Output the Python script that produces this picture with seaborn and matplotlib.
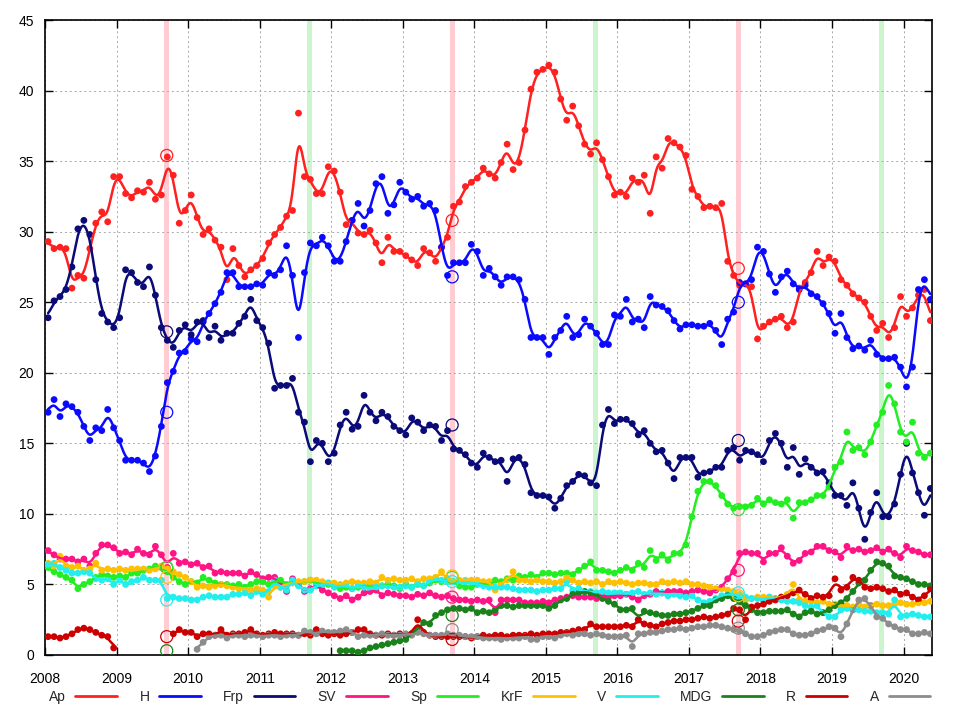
# -*- coding: utf-8 -*-

import numpy as np
import pandas as pd
import matplotlib
matplotlib.use("Agg")
import matplotlib.pyplot as plt
import seaborn as sns
from matplotlib.lines import Line2D

nan = np.nan

# Monthly poll values, Jan 2008 - May 2020 (one row per year)
ap = [
    29.3, 28.8, 28.9, 28.8, 26.0, 26.9, 26.7, 28.8, 30.6, 31.4, 30.7, 33.9,
    33.9, 32.7, 32.4, 32.9, 32.8, 33.5, 32.3, 32.6, 35.3, 34.0, 30.6, 31.5,
    32.6, 31.0, 29.8, 30.2, 29.4, 28.9, 26.6, 28.8, 27.6, 26.8, 27.3, 27.6,
    28.1, 29.2, 29.8, 30.3, 31.1, 31.5, 38.4, 33.9, 33.7, 32.7, 32.7, 34.6,
    34.3, 32.8, 30.5, 30.8, 29.9, 29.8, 30.1, 29.2, 27.8, 29.6, 28.6, 28.6,
    28.3, 28.0, 27.6, 28.8, 28.5, 27.9, 28.9, 29.6, 31.8, 32.1, 33.2, 33.5,
    33.8, 34.5, 34.1, 33.8, 34.9, 36.2, 34.4, 34.9, 37.2, 40.1, 41.3, 41.5,
    41.8, 41.3, 39.4, 37.9, 38.9, 37.5, 36.2, 35.5, 36.3, 35.1, 33.9, 32.6,
    32.8, 32.5, 33.8, 33.5, 34.0, 31.3, 35.3, 34.5, 36.6, 36.3, 36.0, 35.4,
    33.0, 32.5, 31.7, 31.8, 31.7, 32.0, 27.9, 26.9, 26.2, 26.3, 26.1, 22.4,
    23.3, 23.6, 23.8, 24.0, 23.2, 23.6, 26.0, 26.4, 27.1, 28.6, 27.6, 28.2,
    27.9, 26.6, 26.2, 25.6, 25.3, 25.0, 24.0, 23.0, 23.5, 22.5, 23.2, 25.4,
    24.0, 24.6, 25.5, 25.9, 23.7,
]
h = [
    17.2, 18.1, 16.9, 17.8, 17.6, 17.2, 16.2, 15.2, 16.1, 15.9, 17.4, 16.1,
    15.2, 13.8, 13.8, 13.8, 13.6, 13.0, 14.1, 16.2, 19.3, 20.1, 21.4, 21.5,
    22.4, 22.2, 23.6, 24.2, 24.9, 25.7, 27.1, 27.1, 26.1, 26.1, 26.1, 26.3,
    26.2, 27.1, 26.9, 27.3, 29.0, 26.9, 22.5, 27.1, 29.2, 29.0, 29.6, 29.0,
    27.9, 27.9, 29.3, 30.8, 32.0, 30.4, 31.5, 33.4, 33.9, 31.3, 31.9, 33.5,
    32.8, 32.3, 32.5, 31.8, 32.0, 31.5, 28.9, 26.9, 27.8, 27.8, 27.8, 29.1,
    28.6, 26.9, 27.4, 26.8, 26.2, 26.8, 26.8, 26.6, 25.2, 22.5, 22.5, 22.5,
    21.3, 22.5, 23.0, 24.0, 22.5, 22.7, 23.8, 23.3, 22.8, 22.0, 22.0, 24.1,
    24.0, 25.2, 23.6, 23.8, 23.2, 25.4, 24.8, 24.7, 24.4, 23.7, 23.1, 23.4,
    23.4, 23.3, 23.3, 23.5, 23.0, 22.0, 23.8, 24.3, 26.4, 26.3, 26.6, 28.9,
    28.6, 27.0, 25.7, 26.8, 27.2, 26.3, 25.9, 26.2, 25.6, 25.4, 24.9, 24.2,
    22.8, 24.2, 22.5, 21.7, 21.9, 21.6, 22.3, 21.3, 21.0, 21.0, 21.1, 20.4,
    19.0, 20.4, 25.9, 26.6, 25.2,
]
frp = [
    23.9, 25.1, 25.4, 25.9, 27.5, 30.2, 30.8, 29.8, 26.6, 24.2, 23.6, 23.2,
    23.9, 27.3, 27.1, 26.4, 26.1, 27.5, 25.5, 23.2, 22.3, 21.8, 23.0, 23.4,
    22.7, 23.6, 23.7, 22.5, 23.3, 22.3, 22.8, 22.8, 23.5, 24.0, 25.2, 23.7,
    23.2, 22.1, 18.9, 19.1, 19.1, 19.6, 17.2, 16.5, 13.7, 15.2, 15.0, 13.7,
    14.3, 16.3, 17.2, 16.0, 16.2, 18.4, 17.2, 16.6, 17.2, 16.9, 16.2, 15.9,
    15.6, 16.8, 16.5, 15.9, 16.3, 16.2, 15.2, 15.9, 14.6, 14.5, 14.2, 13.6,
    13.3, 14.3, 14.0, 13.7, 13.8, 12.3, 13.9, 14.0, 13.5, 11.5, 11.3, 11.3,
    11.2, 10.4, 11.1, 12.0, 12.3, 12.8, 12.7, 12.2, 12.0, 16.3, 17.4, 16.4,
    16.7, 16.7, 16.4, 15.6, 15.9, 15.0, 14.4, 14.5, 13.6, 12.5, 14.0, 14.0,
    14.0, 12.6, 12.9, 13.0, 13.3, 13.3, 14.5, 14.7, 13.8, 14.5, 14.4, 14.2,
    13.7, 15.2, 15.7, 15.0, 13.3, 14.7, 12.8, 13.9, 13.3, 12.9, 13.0, 12.2,
    11.3, 11.3, 10.6, 12.2, 10.4, 8.2, 10.1, 11.5, 9.8, 9.8, 10.7, 12.8,
    15.0, 12.9, 11.5, 9.9, 11.8,
]
sv = [
    7.4, 7.1, 6.8, 6.8, 6.8, 6.6, 6.8, 6.3, 7.2, 7.8, 7.8, 7.6,
    7.2, 7.3, 7.1, 7.5, 7.2, 7.1, 7.7, 7.1, 6.2, 7.2, 6.5, 6.6,
    6.4, 6.5, 6.2, 6.3, 5.8, 5.9, 5.8, 5.8, 5.8, 5.6, 5.9, 5.7,
    5.4, 5.5, 5.5, 5.0, 4.5, 5.4, 5.0, 4.5, 4.7, 5.0, 4.6, 4.4,
    4.2, 4.0, 4.2, 3.9, 4.1, 4.4, 4.5, 4.6, 4.2, 4.4, 4.3, 4.2,
    4.2, 4.1, 4.3, 4.2, 4.4, 4.2, 4.1, 4.2, 4.0, 3.9, 3.9, 3.8,
    3.9, 3.8, 3.9, 3.0, 3.9, 3.9, 3.9, 3.9, 3.7, 3.7, 3.7, 3.8,
    3.7, 3.9, 4.0, 4.1, 4.2, 4.1, 4.1, 4.1, 4.0, 4.2, 4.1, 4.2,
    4.2, 4.3, 4.1, 3.9, 4.2, 4.3, 4.5, 4.4, 4.5, 4.5, 4.5, 4.4,
    4.5, 4.6, 4.5, 4.4, 4.6, 4.8, 5.4, 5.9, 7.2, 7.3, 7.2, 7.2,
    6.6, 7.2, 7.2, 7.6, 7.0, 6.5, 6.7, 7.2, 7.3, 7.7, 7.7, 7.4,
    7.3, 6.9, 7.7, 7.4, 7.5, 7.3, 7.4, 7.6, 7.3, 7.5, 7.2, 6.9,
    7.7, 7.4, 7.3, 7.1, 7.1,
]
sp = [
    6.2, 5.9, 5.7, 5.5, 5.3, 4.7, 5.0, 5.2, 5.5, 5.7, 5.6, 5.5,
    5.6, 5.5, 5.8, 5.8, 6.0, 6.1, 6.3, 6.2, 5.9, 5.5, 5.2, 5.0,
    5.2, 5.1, 5.5, 5.3, 5.1, 5.0, 5.0, 4.9, 5.0, 4.8, 5.0, 5.2,
    5.2, 5.0, 5.2, 5.3, 5.0, 5.2, 5.1, 5.2, 5.3, 5.1, 5.0, 5.0,
    4.9, 4.7, 4.8, 4.7, 4.8, 4.9, 4.8, 4.8, 4.9, 5.0, 4.9, 4.7,
    5.0, 4.8, 5.0, 4.9, 5.1, 5.3, 5.2, 5.4, 5.2, 4.9, 4.8, 4.8,
    5.0, 5.1, 4.9, 5.3, 5.2, 5.4, 5.3, 5.6, 5.5, 5.7, 5.5, 5.8,
    5.8, 5.7, 5.8, 5.8, 5.7, 6.0, 6.3, 6.6, 6.0, 6.0, 5.9, 5.8,
    6.0, 6.2, 6.0, 6.5, 6.2, 7.4, 6.7, 7.1, 6.7, 7.2, 7.2, 7.8,
    9.8, 11.6, 12.3, 12.3, 12.0, 11.3, 10.7, 10.4, 10.5, 10.5, 10.6, 11.1,
    10.7, 11.0, 10.8, 10.7, 11.0, 9.7, 10.8, 10.8, 11.0, 11.3, 11.3, 11.9,
    13.3, 13.7, 15.8, 14.5, 14.7, 14.2, 15.1, 16.3, 17.2, 19.1, 17.8, 15.8,
    15.1, 16.5, 14.3, 14.0, 14.3,
]
krf = [
    6.5, 6.3, 7.0, 6.3, 6.2, 6.3, 6.0, 6.1, 6.5, 6.0, 6.1, 6.0,
    6.1, 6.0, 6.1, 6.1, 6.1, 6.0, 6.1, 6.3, 6.1, 5.9, 5.7, 5.5,
    5.2, 4.8, 4.9, 4.8, 4.9, 5.0, 4.9, 4.8, 4.7, 4.7, 4.6, 4.7,
    4.6, 4.1, 4.9, 4.8, 5.0, 5.1, 5.2, 5.2, 5.3, 5.3, 5.2, 5.1,
    5.1, 5.0, 5.1, 5.2, 5.1, 5.1, 5.2, 5.1, 5.5, 5.3, 5.4, 5.3,
    5.3, 5.4, 5.2, 5.4, 5.4, 5.5, 5.9, 5.4, 5.2, 5.3, 5.3, 5.3,
    5.3, 5.2, 5.2, 4.6, 5.1, 5.3, 5.9, 5.3, 5.3, 5.2, 5.3, 5.2,
    5.2, 5.1, 5.2, 5.5, 5.3, 5.1, 5.2, 5.1, 5.2, 5.0, 5.2, 5.1,
    5.2, 5.1, 5.0, 5.1, 5.1, 5.0, 5.0, 5.2, 5.1, 5.2, 5.1, 5.2,
    5.0, 5.0, 4.9, 4.8, 4.7, 4.7, 4.6, 4.5, 4.3, 3.9, 4.0, 4.1,
    4.1, 4.1, 4.0, 4.1, 4.3, 5.0, 3.9, 3.8, 3.8, 3.7, 3.8, 3.6,
    3.6, 3.5, 3.5, 3.4, 3.6, 3.4, 3.5, 3.6, 3.5, 3.5, 3.6, 3.7,
    3.6, 3.6, 3.7, 3.7, 3.8,
]
v = [
    6.4, 6.5, 6.2, 6.0, 5.8, 5.8, 5.9, 5.8, 5.4, 5.3, 5.4, 5.0,
    5.3, 5.0, 5.2, 5.3, 5.5, 5.3, 5.3, 5.3, 4.0, 4.1, 4.0, 4.0,
    3.9, 3.9, 4.1, 4.2, 4.1, 4.1, 4.1, 4.3, 4.3, 4.4, 4.2, 4.5,
    4.3, 4.5, 5.3, 4.8, 4.6, 5.3, 4.9, 4.6, 4.6, 4.9, 5.0, 5.1,
    4.8, 4.9, 4.9, 4.7, 4.9, 4.8, 4.7, 4.8, 4.9, 4.9, 4.8, 4.8,
    4.9, 4.8, 5.0, 4.9, 5.2, 5.4, 5.3, 5.2, 5.2, 5.1, 5.2, 5.1,
    5.0, 4.9, 4.8, 4.8, 4.8, 4.8, 4.7, 4.6, 4.6, 4.6, 4.5, 4.6,
    4.6, 4.7, 4.7, 5.2, 4.6, 4.7, 4.5, 4.5, 4.4, 4.5, 4.4, 4.4,
    4.4, 4.3, 4.4, 4.5, 4.3, 4.4, 4.3, 4.4, 4.2, 4.3, 4.2, 4.1,
    4.2, 3.9, 3.7, 3.8, 4.0, 4.2, 4.3, 4.3, 4.2, 4.1, 4.0, 4.0,
    3.9, 4.1, 4.0, 3.9, 3.8, 3.8, 3.7, 3.5, 3.4, 3.5, 3.0, 2.7,
    2.7, 3.2, 3.3, 3.2, 3.2, 3.1, 3.1, 3.0, 3.0, 2.9, 3.9, 2.7,
    2.8, 2.9, 2.8, 2.7, 2.7,
]
mdg = [
    nan, nan, nan, nan, nan, nan, nan, nan, nan, nan, nan, nan,
    nan, nan, nan, nan, nan, nan, nan, nan, nan, nan, nan, nan,
    nan, nan, nan, nan, nan, nan, nan, nan, nan, nan, nan, nan,
    nan, nan, nan, nan, nan, nan, nan, nan, nan, nan, nan, nan,
    nan, 0.3, 0.3, 0.3, 0.2, 0.3, 0.5, 0.6, 0.7, 0.8, 0.9, 1.0,
    1.1, 1.5, 1.9, 2.3, 2.2, 2.8, 3.0, 3.2, 3.3, 3.3, 3.2, 3.3,
    3.0, 3.1, 3.0, 3.2, 3.5, 3.5, 3.4, 3.5, 3.5, 3.5, 3.5, 3.5,
    3.3, 3.5, 3.9, 4.0, 4.3, 4.4, 4.5, 4.4, 4.2, 4.0, 3.8, 3.6,
    3.2, 3.2, 3.3, 2.5, 3.1, 3.0, 2.9, 2.8, 2.8, 2.9, 2.9, 3.0,
    3.1, 3.3, 3.5, 3.5, 3.9, 4.0, 4.2, 4.0, 3.8, 3.5, 3.2, 3.0,
    3.0, 3.1, 3.1, 3.1, 3.2, 2.9, 2.7, 3.0, 3.1, 2.9, 3.0, 3.2,
    3.5, 3.7, 4.0, 4.5, 5.1, 5.3, 6.0, 6.6, 6.5, 6.3, 5.6, 5.5,
    5.4, 5.2, 5.0, 5.0, 4.9,
]
r = [
    1.3, 1.3, 1.2, 1.3, 1.5, 1.8, 1.9, 1.8, 1.6, 1.4, 1.3, 0.5,
    nan, nan, nan, nan, nan, nan, nan, nan, nan, 1.5, 1.8, 1.6,
    1.6, 1.3, 1.5, 1.5, 1.4, 1.8, 1.4, 1.5, 1.5, 1.6, 1.8, 1.5,
    1.4, 1.5, 1.6, 1.5, 1.5, 1.5, 1.4, 1.5, 1.4, 1.8, 1.5, 1.4,
    1.5, 1.4, 1.5, 1.6, 1.8, 1.8, 1.5, 1.4, 1.4, 1.5, 1.4, 1.5,
    1.4, 1.5, 2.5, 1.6, 1.4, 1.3, 1.3, 1.3, 1.3, 1.3, 1.3, 1.2,
    1.3, 1.4, 1.3, 1.4, 1.4, 1.3, 1.4, 1.4, 1.4, 1.5, 1.4, 1.5,
    1.5, 1.5, 1.6, 1.6, 1.7, 1.8, 1.8, 2.2, 2.0, 2.0, 2.0, 2.0,
    2.0, 2.1, 2.0, 2.5, 2.2, 2.1, 2.0, 2.2, 2.3, 2.4, 2.4, 2.5,
    2.5, 2.6, 2.7, 2.6, 2.7, 2.8, 2.9, 3.3, 3.2, 2.5, 3.4, 3.5,
    3.6, 3.8, 3.9, 4.1, 4.2, 4.4, 4.6, 4.3, 4.0, 4.2, 4.1, 4.2,
    5.4, 4.6, 4.8, 5.5, 5.3, 4.8, 4.7, 4.8, 4.7, 4.5, 4.6, 4.3,
    4.4, 4.1, 3.9, 4.2, 4.7,
]
a = [
    nan, nan, nan, nan, nan, nan, nan, nan, nan, nan, nan, nan,
    nan, nan, nan, nan, nan, nan, nan, nan, nan, nan, nan, nan,
    nan, 0.4, 0.9, 1.3, 1.4, 1.4, 1.2, 1.4, 1.4, 1.3, 1.4, 1.4,
    1.3, 1.4, 1.4, 1.3, 1.4, 1.4, 1.4, 1.7, 1.6, 1.5, 1.7, 1.6,
    1.6, 1.7, 1.8, 1.6, 1.3, 1.4, 1.4, 1.4, 1.5, 1.4, 1.4, 1.4,
    1.5, 1.4, 1.6, 1.5, 1.4, 1.4, 1.4, 1.5, 1.4, 1.4, 1.3, 1.3,
    1.3, 1.2, 1.2, 1.2, 1.1, 1.2, 1.2, 1.2, 1.3, 1.1, 1.1, 1.3,
    1.3, 1.2, 1.4, 1.5, 1.4, 1.5, 1.5, 1.4, 1.5, 1.4, 1.3, 1.3,
    1.3, 1.4, 0.6, 1.5, 1.5, 1.6, 1.6, 1.7, 1.8, 1.8, 1.9, 1.8,
    1.9, 2.0, 2.0, 2.1, 2.1, 2.0, 1.9, 1.8, 1.7, 1.5, 1.3, 1.3,
    1.4, 1.6, 1.7, 1.8, 1.8, 1.5, 1.4, 1.4, 1.5, 1.7, 1.8, 2.0,
    1.9, 1.3, 2.2, 3.2, 3.9, 4.0, 3.5, 2.7, 2.6, 2.2, 2.0, 1.8,
    1.8, 1.5, 1.5, 1.6, 1.5,
]

parties = ["Ap", "H", "Frp", "SV", "Sp", "KrF", "V", "MDG", "R", "A"]
series = [ap, h, frp, sv, sp, krf, v, mdg, r, a]
colors = {"Ap": "#ff2020", "H": "#0a0aff", "Frp": "#0a0a78", "SV": "#ff1485",
          "Sp": "#22ee22", "KrF": "#ffc000", "V": "#22eeee", "MDG": "#1a821a",
          "R": "#cc0000", "A": "#8c8c8c"}

# Elections: parliament (pink) and local (green)
election_dates = [2009.70, 2013.69, 2017.69]
local_dates = [2011.69, 2015.69, 2019.69]
results = {
    "Ap": [35.4, 30.8, 27.4], "H": [17.2, 26.8, 25.0], "Frp": [22.9, 16.3, 15.2],
    "SV": [6.2, 4.1, 6.0], "Sp": [6.2, 5.5, 10.3], "KrF": [5.5, 5.6, 4.2],
    "V": [3.9, 5.2, 4.4], "MDG": [0.3, 2.8, 3.2], "R": [1.3, 1.1, 2.4],
    "A": [nan, 1.8, 1.9],
}

# Tidy data
months = 2008 + (np.arange(len(ap)) + 0.5) / 12
rows = []
for p, vals in zip(parties, series):
    rows.append(pd.DataFrame({"date": months, "value": vals, "party": p}))
polls = pd.concat(rows, ignore_index=True)


def smooth(df, sigma=0.058):
    out = []
    for p, g in df.groupby("party", sort=False):
        ok = g["value"].notna().values
        seg = np.cumsum(np.r_[0, np.diff(ok.astype(int)) != 0])
        for s in np.unique(seg[ok]):
            part = g[ok & (seg == s)]
            x, y = part["date"].values, part["value"].values
            if len(x) < 2:
                continue
            xs = np.linspace(x[0], x[-1], int((x[-1] - x[0]) * 150) + 2)
            w = np.exp(-0.5 * ((xs[:, None] - x[None, :]) / sigma) ** 2)
            out.append(pd.DataFrame({"date": xs, "value": w @ y / w.sum(1),
                                     "party": p, "seg": s}))
    return pd.concat(out, ignore_index=True)


lines = smooth(polls)

# Plot
sns.set_theme(style="ticks")
plt.rcParams["font.family"] = ["Liberation Sans", "DejaVu Sans"]
fig = plt.figure(figsize=(9.6, 7.2), dpi=100)
ax = fig.add_axes([0.047, 0.0903, 0.924, 0.8819])

for d in election_dates:
    ax.axvspan(d - 0.035, d + 0.035, color="#ffccd3", lw=0, zorder=0)
for d in local_dates:
    ax.axvspan(d - 0.035, d + 0.035, color="#cdf5cd", lw=0, zorder=0)

sns.scatterplot(data=polls.dropna(), x="date", y="value", hue="party",
                hue_order=parties, palette=colors, s=24, linewidth=0,
                legend=False, ax=ax, zorder=3)
sns.lineplot(data=lines, x="date", y="value", hue="party", units="seg",
             estimator=None, hue_order=parties, palette=colors, lw=1.8,
             legend=False, ax=ax, zorder=4)

for p in parties:
    ax.scatter(election_dates, results[p], s=75, facecolors="none",
               edgecolors=colors[p], linewidths=0.9, zorder=5)

ax.set_xlim(2008, 2020.40)
ax.set_ylim(0, 45)
ax.set_xticks(range(2008, 2021))
ax.set_yticks(range(0, 46, 5))
ax.set_xlabel("")
ax.set_ylabel("")
ax.grid(True, color="#a8a8a8", lw=0.7, ls=(0, (2, 3)))
ax.tick_params(direction="in", top=True, right=True, length=6, width=1,
               labelsize=10, pad=8, colors="black")
ax.tick_params(axis="x", pad=12)
for sp_ in ax.spines.values():
    sp_.set_visible(True)
    sp_.set_linewidth(1.2)
    sp_.set_color("black")

handles = [Line2D([], [], color=colors[p], lw=2) for p in parties]
fig.legend(handles, parties, ncol=10, loc="center", markerfirst=False,
           bbox_to_anchor=(0.045, 0.0, 0.93, 0.064), mode="expand",
           frameon=False, fontsize=10, handlelength=3.0, handletextpad=0.7,
           borderaxespad=0)

fig.savefig("out.png", dpi=100)
plt.close("all")
